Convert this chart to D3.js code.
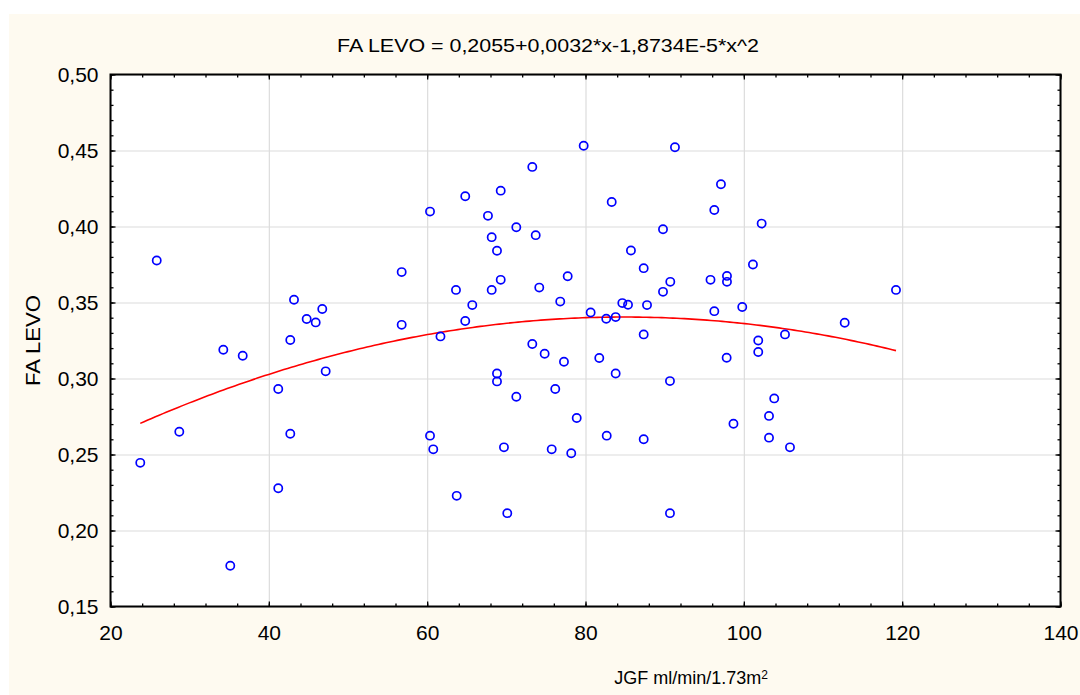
<!DOCTYPE html>
<html>
<head>
<meta charset="utf-8">
<script src="https://cdn.jsdelivr.net/npm/d3@7"></script>
<style>
  html, body { margin: 0; padding: 0; background: #ffffff; }
  svg { display: block; }
  text { font-family: "Liberation Sans", Arial, sans-serif; fill: #000; }
</style>
</head>
<body>
<svg id="chart" width="1080" height="695"></svg>
<script>
// ---- Data ----
const jgf = [
  25.84, 56.78, 63.64, 43.18, 46.75, 44.78, 45.92, 56.78, 61.68, 42.71,
  34.25, 36.70, 47.18, 41.19, 28.69, 42.71, 60.36, 60.77, 23.76, 41.19,
  63.73, 35.13,
  79.77, 91.30, 73.28, 69.29, 64.81, 97.11, 60.36, 83.31, 96.27, 67.68,
  71.26, 73.71, 68.15, 89.79, 68.82, 85.74, 87.35, 101.15, 77.75, 97.87,
  97.87, 95.79, 68.15, 69.29, 74.16, 90.71, 89.79, 76.81, 65.70, 84.65,
  85.37, 87.77, 99.80, 80.65, 82.62, 83.81, 96.27, 64.81,
  73.28, 74.84, 77.28, 81.74, 87.35, 97.83, 68.82, 68.82, 83.81, 90.67,
  76.18, 71.26, 78.89, 98.69, 69.70, 75.73, 78.20, 82.68, 87.35, 70.12,
  90.67,
  102.25, 119.22, 112.74, 105.20, 101.82, 101.82, 103.84, 103.18, 103.18, 105.83
];
const faLevo = [
  0.3776, 0.3700, 0.3583, 0.3518, 0.3457, 0.3391, 0.3369, 0.3353, 0.3277, 0.3253,
  0.3189, 0.3150, 0.3047, 0.2931, 0.2650, 0.2637, 0.2624, 0.2534, 0.2445, 0.2278,
  0.2228, 0.1768,
  0.4531, 0.4521, 0.4392, 0.4236, 0.4199, 0.4278, 0.4098, 0.4161, 0.4109, 0.4070,
  0.3995, 0.3943, 0.3930, 0.3982, 0.3840, 0.3842, 0.3726, 0.3750, 0.3673, 0.3675,
  0.3636, 0.3649, 0.3583, 0.3649, 0.3598, 0.3636, 0.3570, 0.3506, 0.3483, 0.3496,
  0.3485, 0.3483, 0.3470, 0.3434, 0.3393, 0.3404, 0.3443, 0.3378,
  0.3227, 0.3163, 0.3110, 0.3135, 0.3290, 0.3137, 0.3033, 0.2981, 0.3033, 0.2983,
  0.2931, 0.2880, 0.2740, 0.2702, 0.2547, 0.2534, 0.2508, 0.2624, 0.2600, 0.2114,
  0.2114,
  0.4019, 0.3583, 0.3367, 0.3290, 0.3250, 0.3174, 0.2869, 0.2754, 0.2611, 0.2547
];
// quadratic fit: a + b*x + c*x^2
const fitCoef = [0.2055, 0.00318, -1.8734e-5];
const xTicks = [20, 40, 60, 80, 100, 120, 140];
const yTicks = [0.15, 0.20, 0.25, 0.30, 0.35, 0.40, 0.45, 0.50];
const titleText = "FA LEVO = 0,2055+0,0032*x-1,8734E-5*x^2";
const yTitle = "FA LEVO";
const xTitleMain = "JGF ml/min/1.73m";
const xTitleSup = "2";

// ---- Layout ----
const W = 1080, H = 695;
const pL = 110.5, pR = 1060.5, pT = 74.5, pB = 606.5;

const svg = d3.select("#chart");
const locale = d3.formatLocale({decimal: ",", thousands: ".", grouping: [3], currency: ["", ""]});
const fmtY = locale.format(".2f");

// background
svg.append("rect").attr("x", 0).attr("y", 0).attr("width", W).attr("height", H).attr("fill", "#ffffff");
svg.append("rect").attr("x", 9).attr("y", 14).attr("width", W - 9).attr("height", H - 14).attr("fill", "#fefaf0");
svg.append("rect").attr("x", pL).attr("y", pT).attr("width", pR - pL).attr("height", pB - pT).attr("fill", "#ffffff");

const x = d3.scaleLinear().domain([20, 140]).range([pL, pR]);
const y = d3.scaleLinear().domain([0.15, 0.50]).range([pB, pT]);

// gridlines
const grid = svg.append("g");
grid.append("g").attr("transform", `translate(0,${pB})`)
  .call(d3.axisBottom(x).tickValues(xTicks).tickSize(-(pB - pT)).tickFormat(""))
  .call(g => g.select(".domain").remove())
  .call(g => g.selectAll("line").attr("stroke", "#dcdcdc").attr("stroke-width", 1.2));
grid.append("g").attr("transform", `translate(${pL},0)`)
  .call(d3.axisLeft(y).tickValues(yTicks).tickSize(-(pR - pL)).tickFormat(""))
  .call(g => g.select(".domain").remove())
  .call(g => g.selectAll("line").attr("stroke", "#dcdcdc").attr("stroke-width", 1.2));

// minor + major ticks (inside)
const xMinor = d3.range(20, 140.001, 4);
const yMinor = d3.range(0, 36).map(i => 0.15 + i * 0.01);
function tickAxis(axisFn, scale, vals, size, transform) {
  svg.append("g").attr("transform", transform)
    .call(axisFn(scale).tickValues(vals).tickSize(size).tickFormat(""))
    .call(g => g.select(".domain").remove())
    .call(g => g.selectAll("line").attr("stroke", "#000").attr("stroke-width", 1.3));
}
tickAxis(d3.axisBottom, x, xMinor, -3, `translate(0,${pB})`);
tickAxis(d3.axisTop, x, xMinor, -3, `translate(0,${pT})`);
tickAxis(d3.axisLeft, y, yMinor, -3, `translate(${pL},0)`);
tickAxis(d3.axisRight, y, yMinor, -3, `translate(${pR},0)`);
tickAxis(d3.axisBottom, x, xTicks, -5, `translate(0,${pB})`);
tickAxis(d3.axisTop, x, xTicks, -5, `translate(0,${pT})`);
tickAxis(d3.axisLeft, y, yTicks, -5, `translate(${pL},0)`);
tickAxis(d3.axisRight, y, yTicks, -5, `translate(${pR},0)`);

// tick labels
svg.append("g").attr("transform", `translate(0,${pB})`)
  .call(d3.axisBottom(x).tickValues(xTicks).tickSize(0).tickPadding(19).tickFormat(d3.format("d")))
  .call(g => g.select(".domain").remove())
  .call(g => g.selectAll("text").attr("font-size", 21).attr("font-family", "Liberation Sans, Arial, sans-serif").attr("fill", "#000"));
svg.append("g").attr("transform", `translate(${pL},0)`)
  .call(d3.axisLeft(y).tickValues(yTicks).tickSize(0).tickPadding(12).tickFormat(fmtY))
  .call(g => g.select(".domain").remove())
  .call(g => g.selectAll("text").attr("font-size", 21).attr("font-family", "Liberation Sans, Arial, sans-serif").attr("fill", "#000"));

// fit curve
const xs = d3.extent(jgf);
const curvePts = d3.range(0, 201).map(i => {
  const xv = xs[0] + (xs[1] - xs[0]) * i / 200;
  return [xv, fitCoef[0] + fitCoef[1] * xv + fitCoef[2] * xv * xv];
});
svg.append("path")
  .datum(curvePts)
  .attr("d", d3.line().x(d => x(d[0])).y(d => y(d[1])))
  .attr("fill", "none").attr("stroke", "#ff0000").attr("stroke-width", 1.6);

// points
svg.append("g").selectAll("circle")
  .data(jgf.map((v, i) => [v, faLevo[i]]))
  .join("circle")
  .attr("cx", d => x(d[0])).attr("cy", d => y(d[1])).attr("r", 4.1)
  .attr("fill", "none").attr("stroke", "#0000ff").attr("stroke-width", 1.7);

// frame
svg.append("rect").attr("x", pL).attr("y", pT).attr("width", pR - pL).attr("height", pB - pT)
  .attr("fill", "none").attr("stroke", "#000").attr("stroke-width", 2);

// titles
svg.append("text").attr("x", 548).attr("y", 45).attr("dy", "0.35em")
  .attr("text-anchor", "middle").attr("font-size", 19)
  .attr("textLength", 422).attr("lengthAdjust", "spacingAndGlyphs").text(titleText);
svg.append("text").attr("transform", "translate(33,340.5) rotate(-90)").attr("dy", "0.35em")
  .attr("text-anchor", "middle").attr("font-size", 21)
  .attr("textLength", 91).attr("lengthAdjust", "spacingAndGlyphs").text(yTitle);
const xt = svg.append("text").attr("x", 691).attr("y", 678).attr("dy", "0.35em")
  .attr("text-anchor", "middle").attr("font-size", 18);
xt.append("tspan").text(xTitleMain);
xt.append("tspan").attr("dy", "-0.45em").attr("font-size", 12).text(xTitleSup);
</script>
</body>
</html>
